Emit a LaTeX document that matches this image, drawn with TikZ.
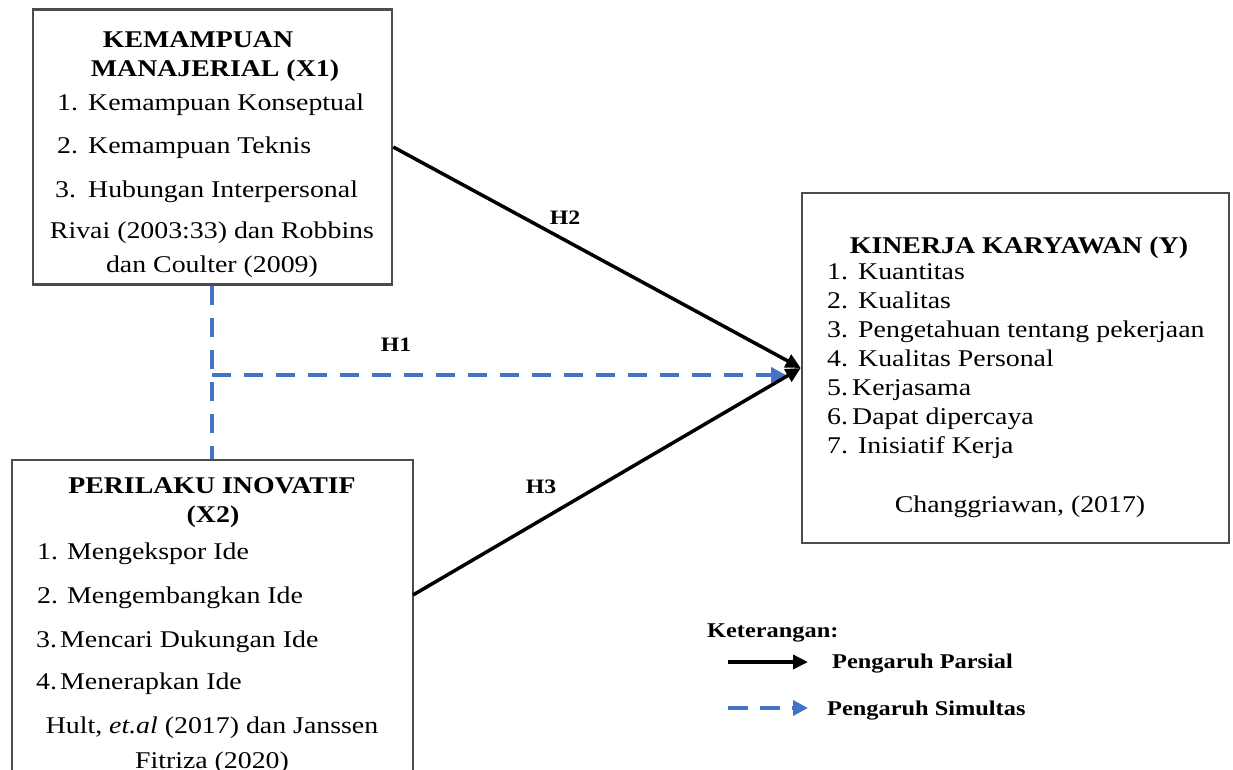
\documentclass[tikz,border=0pt]{standalone}
\usepackage{fontspec}
\setmainfont{Liberation Serif}[FakeStretch=1.16]
\usetikzlibrary{arrows.meta}
\definecolor{simblue}{RGB}{68,114,196}
\begin{document}
\begin{tikzpicture}[x=1pt,y=-1pt,
  box/.style={draw=black!70, line width=2.5pt, rectangle, inner sep=0pt},
  txt/.style={inner sep=0pt, font=\fontsize{24}{28}\selectfont},
  ttl/.style={inner sep=0pt, font=\fontsize{24}{28}\selectfont\bfseries},
  hlab/.style={inner sep=0pt, font=\fontsize{20.5}{24}\selectfont\bfseries},
  leg/.style={inner sep=0pt, font=\fontsize{21}{24}\selectfont\bfseries},
  parsial/.style={line width=3.5pt, black, -{Triangle[length=15pt,width=14pt]}},
  simline/.style={line width=4pt, simblue, dash pattern=on 19pt off 13pt},
  simarrow/.style={simline, -{Triangle[length=15pt,width=15pt]}}]
\useasboundingbox (0,0) rectangle (1233,769);

% boxes
\node[box, minimum width=359pt, minimum height=275pt] (x1) at (212.5,147) {};
\node[box, minimum width=401pt, minimum height=340pt] (x2) at (212.5,630) {};
\node[box, minimum width=427pt, minimum height=350pt] (y) at (1015.5,368) {};

% X1 text
\node[ttl, anchor=base] (x1t1) at (198,47) {KEMAMPUAN};
\node[ttl, anchor=base] (x1t2) at (215,76) {MANAJERIAL (X1)};
\node[txt, anchor=base west] (x1i1) at (57,110) {\makebox[31pt][l]{1.}Kemampuan Konseptual};
\node[txt, anchor=base west] (x1i2) at (57,153) {\makebox[31pt][l]{2.}Kemampuan Teknis};
\node[txt, anchor=base west] (x1i3) at (55,197) {\makebox[33pt][l]{3.}Hubungan Interpersonal};
\node[txt, anchor=base] (x1c1) at (212,238) {Rivai (2003:33) dan Robbins};
\node[txt, anchor=base] (x1c2) at (212,272) {dan Coulter (2009)};

% X2 text
\node[ttl, anchor=base] (x2t1) at (212,493) {PERILAKU INOVATIF};
\node[ttl, anchor=base] (x2t2) at (213,522) {(X2)};
\node[txt, anchor=base west] (x2i1) at (37,559) {\makebox[30pt][l]{1.}Mengekspor Ide};
\node[txt, anchor=base west] (x2i2) at (37,603) {\makebox[30pt][l]{2.}Mengembangkan Ide};
\node[txt, anchor=base west] (x2i3) at (36,647) {\makebox[24pt][l]{3.}Mencari Dukungan Ide};
\node[txt, anchor=base west] (x2i4) at (36,689) {\makebox[24pt][l]{4.}Menerapkan Ide};
\node[txt, anchor=base] (x2c1) at (212,733) {Hult, \textit{et.al} (2017) dan Janssen};
\node[txt, anchor=base] (x2c2) at (212,768) {Fitriza (2020)};

% Y text
\node[ttl, anchor=base] (yt) at (1019,253) {KINERJA KARYAWAN (Y)};
\node[txt, anchor=base west] (yi1) at (827,279) {\makebox[31pt][l]{1.}Kuantitas};
\node[txt, anchor=base west] (yi2) at (827,308) {\makebox[31pt][l]{2.}Kualitas};
\node[txt, anchor=base west] (yi3) at (827,337) {\makebox[31pt][l]{3.}Pengetahuan tentang pekerjaan};
\node[txt, anchor=base west] (yi4) at (827,366) {\makebox[31pt][l]{4.}Kualitas Personal};
\node[txt, anchor=base west] (yi5) at (827,395) {\makebox[25pt][l]{5.}Kerjasama};
\node[txt, anchor=base west] (yi6) at (827,424) {\makebox[25pt][l]{6.}Dapat dipercaya};
\node[txt, anchor=base west] (yi7) at (827,453) {\makebox[31pt][l]{7.}Inisiatif Kerja};
\node[txt, anchor=base] (yc) at (1020,512) {Changgriawan, (2017)};

% connectors
\coordinate (j) at (212,375);
\coordinate (h1e) at (786,375);
\coordinate (h3s) at (413,595);
\draw[simline] (x1.south -| j) -- (x2.north -| j);
\draw[simarrow] (j) -- (h1e);
\draw[parsial] (x1.east) -- (y.west);
\draw[parsial] (h3s) -- (y.west);

% hypothesis labels
\node[hlab] (h1) at (396,345) {H1};
\node[hlab] (h2) at (565,218) {H2};
\node[hlab] (h3) at (541,487) {H3};

% legend
\node[leg, anchor=base west] (ket) at (707,637) {Keterangan:};
\coordinate (lp1) at (728,662);
\coordinate (lp2) at (808,662);
\coordinate (ls1) at (728,708);
\coordinate (ls2) at (808,708);
\draw[parsial] (lp1) -- (lp2);
\draw[simarrow, dash pattern=on 20pt off 12pt] (ls1) -- (ls2);
\node[leg, anchor=base west] (lpt) at (832,668) {Pengaruh Parsial};
\node[leg, anchor=base west] (lst) at (827,715) {Pengaruh Simultas};
\end{tikzpicture}
\end{document}
